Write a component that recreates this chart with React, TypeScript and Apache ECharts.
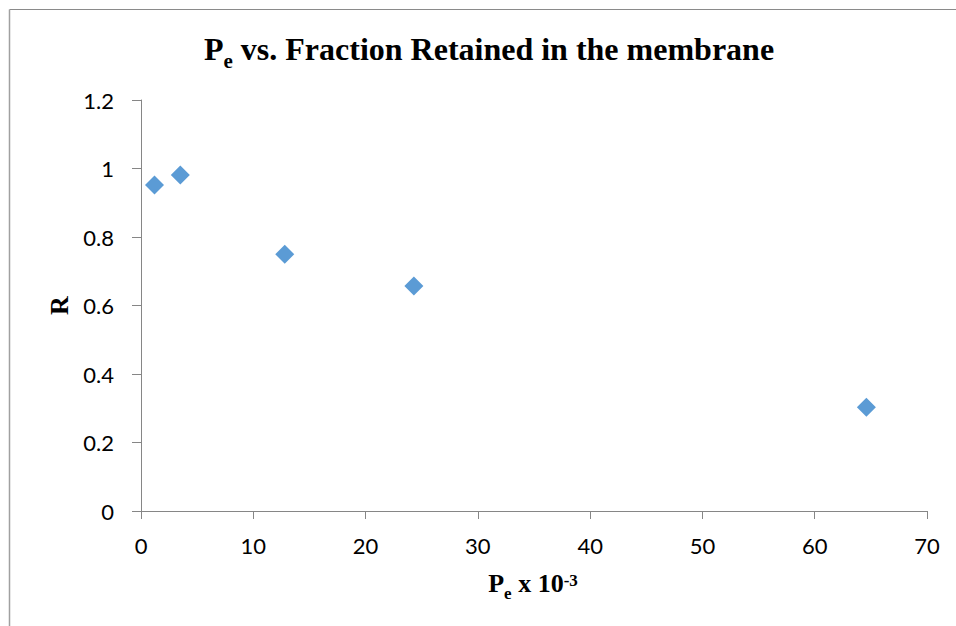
import React, { useEffect, useRef } from "react";
import * as echarts from "echarts";

const peValues = [1.2, 3.5, 12.8, 24.3, 64.6];
const rValues = [0.952, 0.981, 0.75, 0.657, 0.303];
const xTicks = { min: 0, max: 70, interval: 10 };
const yTicks = { min: 0, max: 1.2, interval: 0.2 };
const titleText = "{a|P}{s|e}{a| vs. Fraction Retained in the membrane}";
const xNameText = "{a|P}{s|e}{a| x 10}{p|-3}";
const yNameText = "R";

const serif = "'Liberation Serif', 'Times New Roman', serif";
const sans = "Lato, Carlito, 'Open Sans', sans-serif";

export default function App() {
  const ref = useRef<HTMLDivElement>(null);
  useEffect(() => {
    if (!ref.current) return;
    const chart = echarts.init(ref.current, undefined, { renderer: "svg" });
    const points = peValues.map((x, i) => [x, rValues[i]]);
    chart.setOption({
      animation: false,
      backgroundColor: "#ffffff",
      graphic: [
        { type: "line", shape: { x1: 9.5, y1: 9.5, x2: 960, y2: 9.5 }, style: { stroke: "#8a8a8a", lineWidth: 1 } },
        { type: "line", shape: { x1: 9.5, y1: 9.5, x2: 9.5, y2: 640 }, style: { stroke: "#a0a0a0", lineWidth: 1.5 } },
        {
          type: "text",
          x: 489,
          y: 33,
          style: {
            text: titleText,
            align: "center",
            verticalAlign: "top",
            rich: {
              a: { fontFamily: serif, fontWeight: "bold", fontSize: 32, fill: "#000", lineHeight: 32, verticalAlign: "top" },
              s: { fontFamily: serif, fontWeight: "bold", fontSize: 21, fill: "#000", lineHeight: 21, verticalAlign: "top", padding: [17, 0, 0, 0] },
            },
          },
        },
        {
          type: "text",
          x: 533,
          y: 570,
          style: {
            text: xNameText,
            align: "center",
            verticalAlign: "top",
            rich: {
              a: { fontFamily: serif, fontWeight: "bold", fontSize: 26, fill: "#000", lineHeight: 26, verticalAlign: "top" },
              s: { fontFamily: serif, fontWeight: "bold", fontSize: 17, fill: "#000", lineHeight: 17, verticalAlign: "top", padding: [15, 0, 0, 0] },
              p: { fontFamily: serif, fontWeight: "bold", fontSize: 17, fill: "#000", lineHeight: 17, verticalAlign: "top", padding: [2, 0, 0, 0] },
            },
          },
        },
        {
          type: "text",
          x: 59,
          y: 305.5,
          rotation: Math.PI / 2,
          style: {
            text: yNameText,
            align: "center",
            verticalAlign: "middle",
            fontFamily: serif,
            fontWeight: "bold",
            fontSize: 26,
            fill: "#000",
          },
        },
      ],
      grid: { left: 141, right: 29, top: 100, bottom: 115, containLabel: false },
      xAxis: {
        type: "value",
        min: xTicks.min,
        max: xTicks.max,
        interval: xTicks.interval,
        splitLine: { show: false },
        axisLine: { show: true, onZero: false, lineStyle: { color: "#868686", width: 1 } },
        axisTick: { show: true, length: 8, lineStyle: { color: "#868686" } },
        axisLabel: { fontFamily: sans, fontSize: 22, color: "#000", margin: 23 },
      },
      yAxis: {
        type: "value",
        min: yTicks.min,
        max: yTicks.max,
        interval: yTicks.interval,
        splitLine: { show: false },
        axisLine: { show: true, onZero: false, lineStyle: { color: "#868686", width: 1 } },
        axisTick: { show: true, length: 9, lineStyle: { color: "#868686" } },
        axisLabel: { fontFamily: sans, fontSize: 22, color: "#000", margin: 27 },
      },
      series: [
        {
          type: "scatter",
          data: points,
          symbol: "diamond",
          symbolSize: 19,
          itemStyle: { color: "#5B9BD5", opacity: 1 },
        },
      ],
    });
    return () => chart.dispose();
  }, []);
  return <div ref={ref} style={{ position: "fixed", left: 0, top: 0, width: 956, height: 626 }} />;
}
